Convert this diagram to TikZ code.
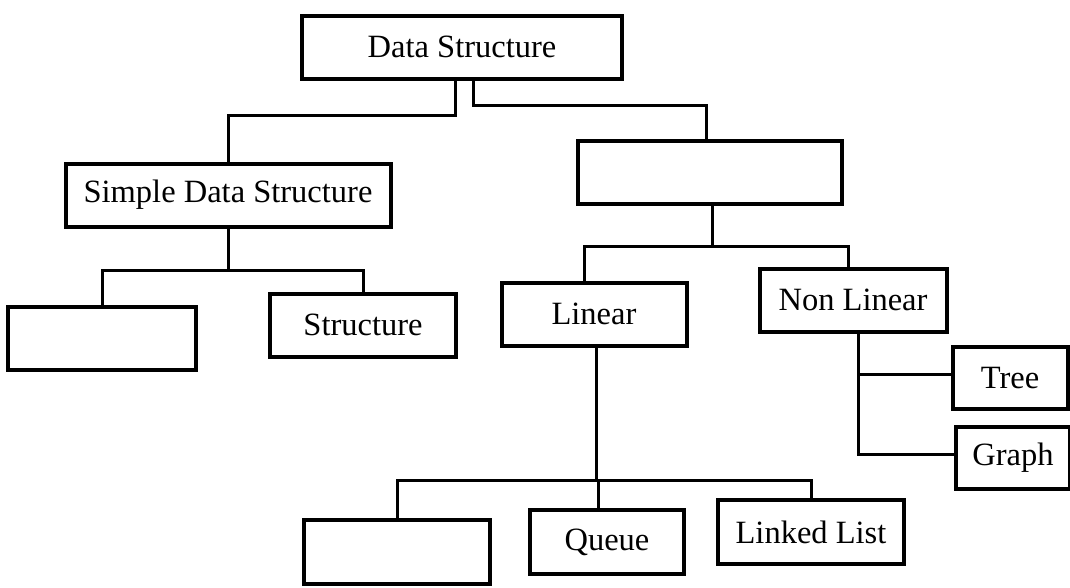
\documentclass[tikz,border=0pt]{standalone}
\usepackage{fontspec}
\setmainfont{Liberation Serif}
\begin{document}
\begin{tikzpicture}[x=1pt,y=-1pt,
  box/.style={draw=black,line width=4pt,inner sep=0pt,minimum height=63pt,
    font=\fontsize{32.5}{38}\selectfont,anchor=center},
  conn/.style={draw=black,line width=3pt}]
\useasboundingbox (0,0) rectangle (1070,587);
\fill[white] (0,0) rectangle (1070,587);
% boxes
\node[box,minimum width=320pt] (ds) at (462,47) {Data Structure};
\node[box,minimum width=325pt] (simple) at (228,195) {Simple Data Structure};
\node[box,minimum width=264pt] (right) at (710,172) {};
\node[box,minimum width=188pt] (bl) at (102,338) {};
\node[box,minimum width=186pt] (st) at (363,325) {Structure};
\node[box,minimum width=185pt] (lin) at (594,314) {Linear};
\node[box,minimum width=187pt] (nl) at (853,300) {Non Linear};
\node[box,minimum width=115pt,minimum height=62pt] (tree) at (1010,378) {Tree};
\node[box,minimum width=114pt,minimum height=62pt] (graph) at (1013,458) {Graph};
\node[box,minimum width=186pt,minimum height=64pt] (e2) at (397,552) {};
\node[box,minimum width=154pt,minimum height=64pt] (q) at (607,542) {Queue};
\node[box,minimum width=186pt,minimum height=64pt] (ll) at (811,532) {Linked List};
% connectors
\draw[conn] ([xshift=-7pt]ds.south) -- ++(0,34.5) -| (simple.north);
\draw[conn] ([xshift=11pt]ds.south) -- ++(0,24.5) -| ([xshift=-4pt]right.north);
\draw[conn] (simple.south) -- ++(0,41.5) coordinate (s1);
\draw[conn] (s1) -| (bl.north);
\draw[conn] (s1) -| (st.north);
\draw[conn] ([xshift=2pt]right.south) -- ++(0,41) coordinate (r1);
\draw[conn] (r1) -| ([xshift=-10pt]lin.north);
\draw[conn] (r1) -| ([xshift=-5pt]nl.north);
\draw[conn] ([xshift=5pt]nl.south) |- ([yshift=4pt]tree.west);
\draw[conn] ([xshift=5pt]nl.south) |- ([yshift=4pt]graph.west);
\draw[conn] ([xshift=2pt]lin.south) -- ++(0,132.5) coordinate (l1);
\draw[conn] (l1) -| (e2.north);
\draw[conn] (l1) -| ([xshift=-9pt]q.north);
\draw[conn] (l1) -| (ll.north);
\end{tikzpicture}
\end{document}
